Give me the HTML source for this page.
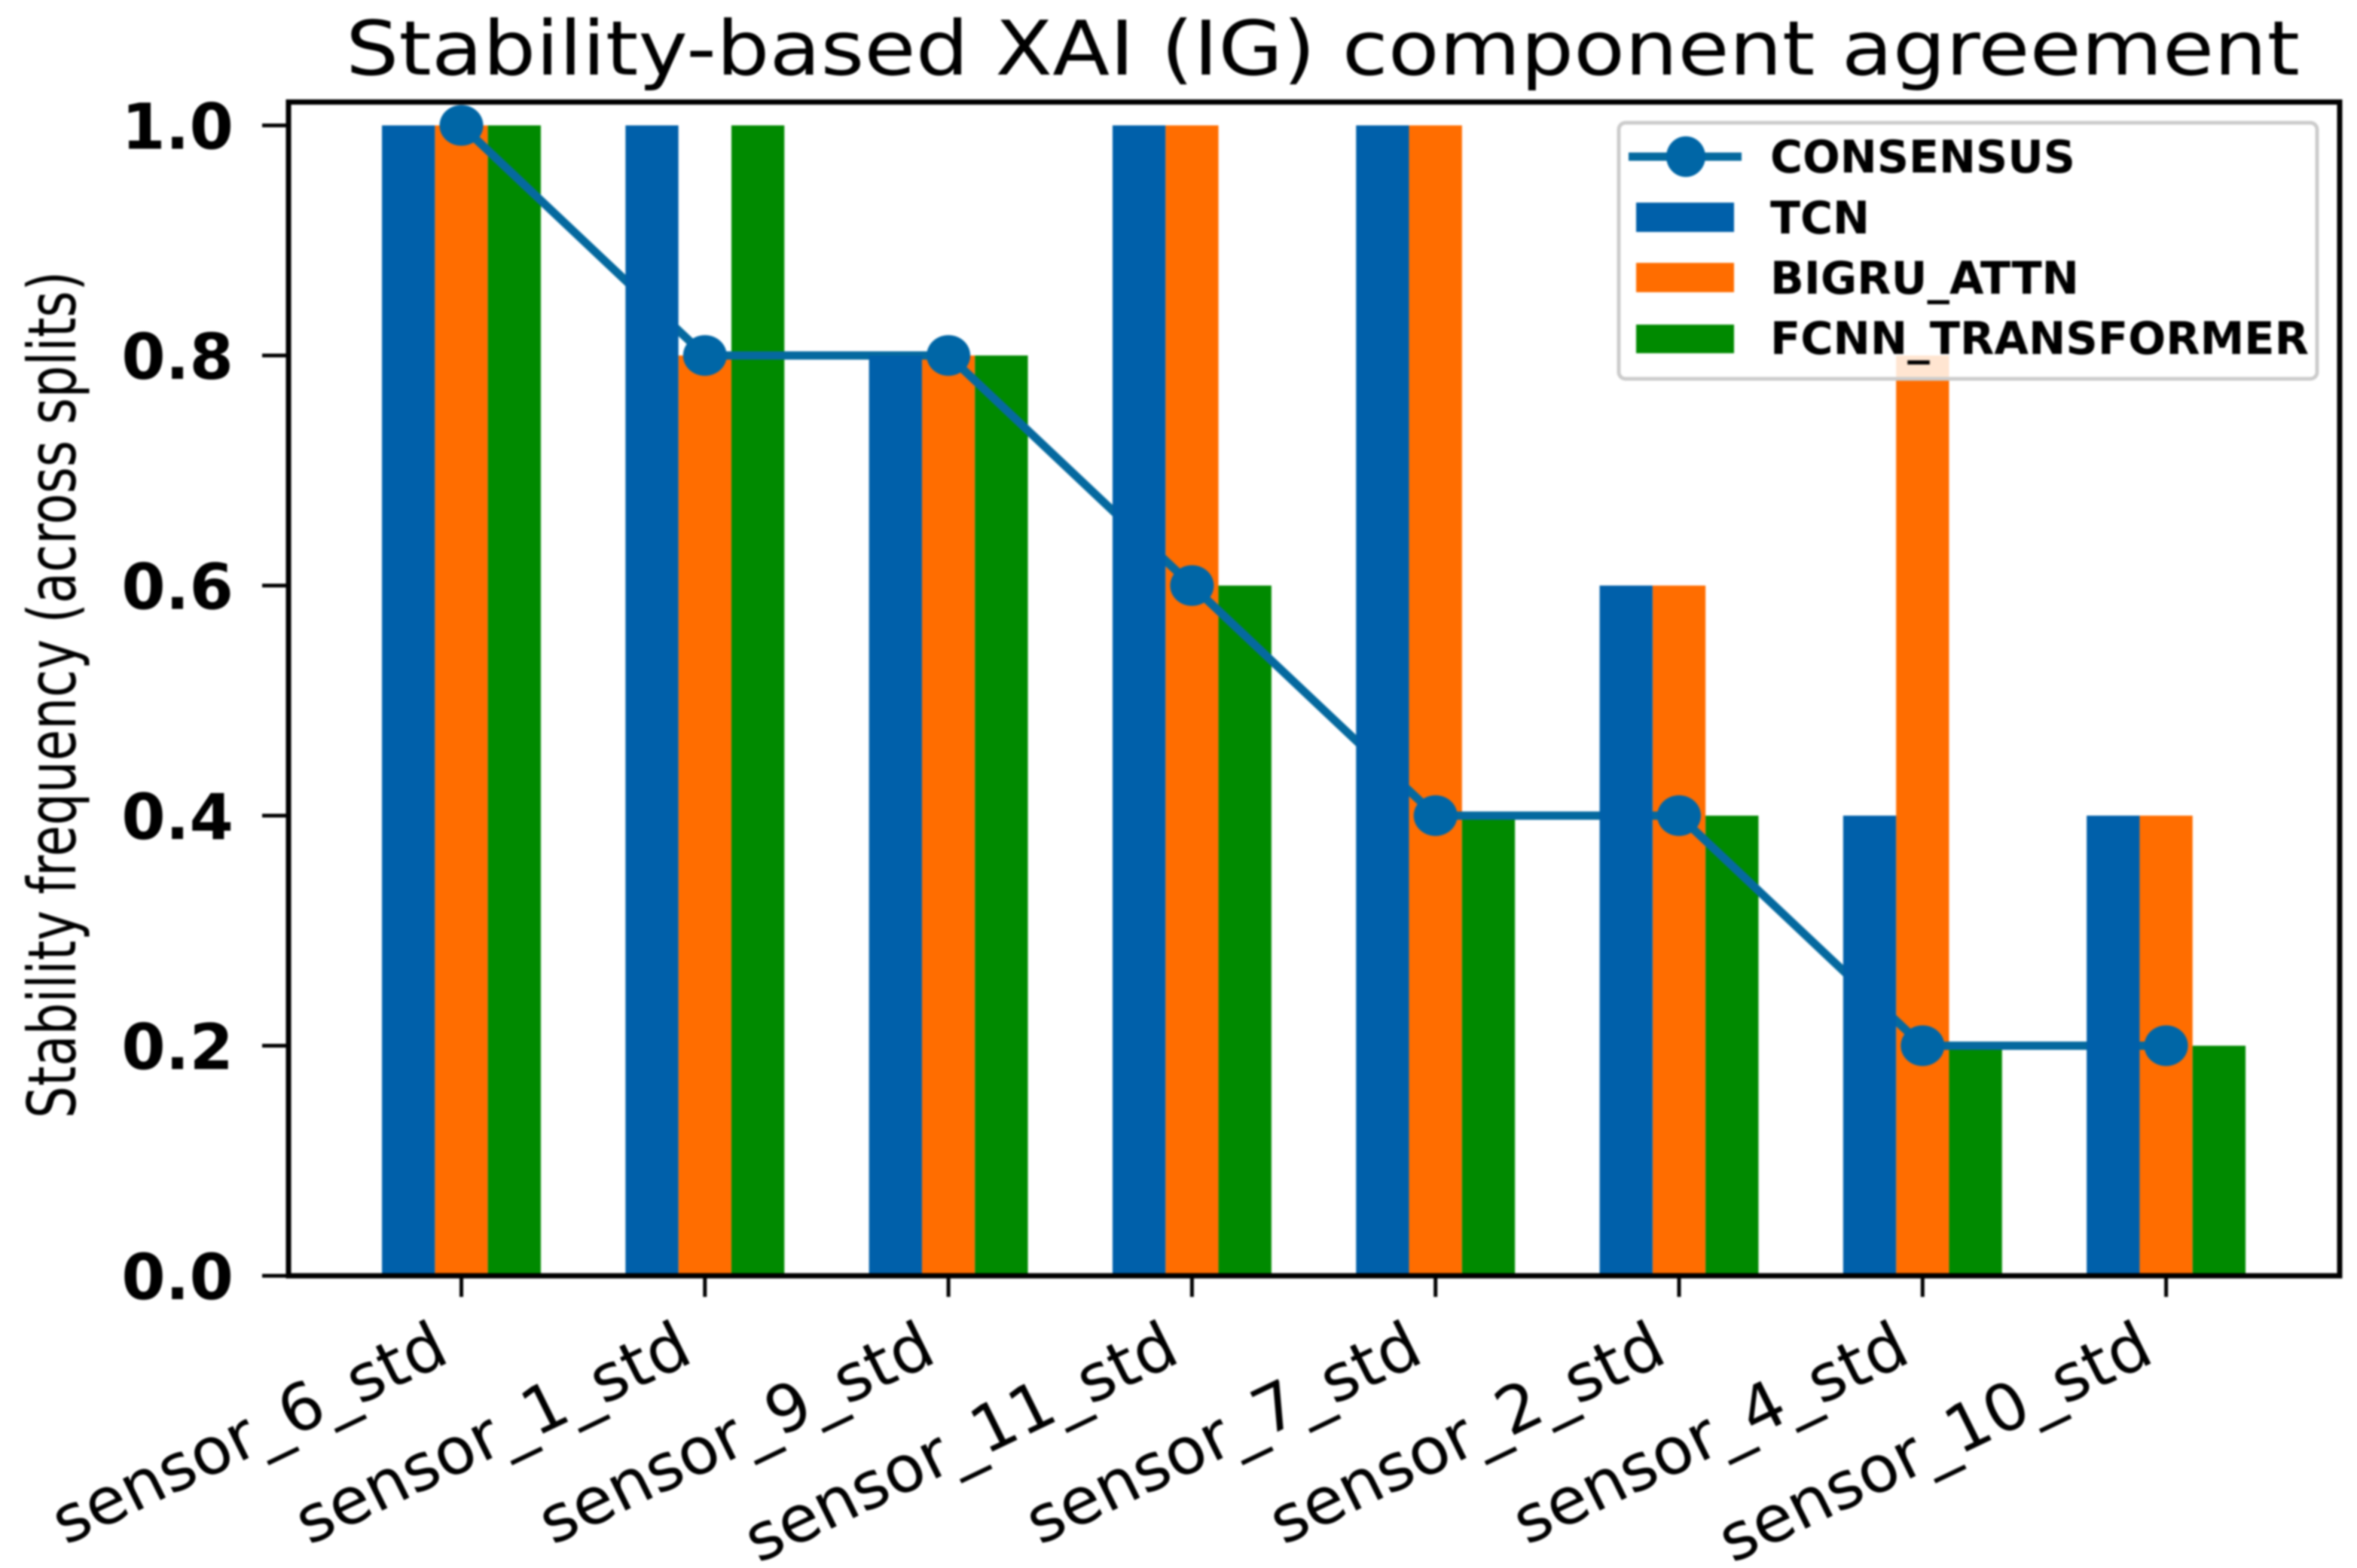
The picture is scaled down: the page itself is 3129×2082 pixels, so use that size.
<!DOCTYPE html>
<html lang="en">
<head>
<meta charset="utf-8">
<title>Stability-based XAI (IG) component agreement</title>
<style>
  html, body { margin: 0; padding: 0; background: #fff; }
  svg { display: block; filter: blur(1.2px); }
  text { font-family: "DejaVu Sans", "Liberation Sans", sans-serif; fill: #000; }
</style>
</head>
<body>
<svg id="chart" xmlns="http://www.w3.org/2000/svg" width="3129" height="2082" viewBox="0 0 3129 2082">
  <rect x="0" y="0" width="3129" height="2082" fill="#ffffff"/>
  <text x="459" y="99" font-size="100" textLength="2594" lengthAdjust="spacingAndGlyphs">Stability-based XAI (IG) component agreement</text>
  <text transform="translate(100,1485) rotate(-90)" font-size="88" textLength="1125" lengthAdjust="spacingAndGlyphs">Stability frequency (across splits)</text>
  <g id="plot-marks"></g>
  <g id="axes"></g>
  <g id="legend">
    <rect x="2149" y="163" width="927" height="340" rx="9" ry="9" fill="#ffffff" fill-opacity="0.82" stroke="#cccccc" stroke-width="5"/>
    <g>
      <line x1="2162" y1="208" x2="2312" y2="208" stroke="#05699f" stroke-width="11"/>
      <ellipse cx="2238" cy="208" rx="26" ry="27" fill="#0066a6"/>
      <text x="2350" y="229" font-size="60" font-weight="700" textLength="405" lengthAdjust="spacingAndGlyphs">CONSENSUS</text>
    </g>
    <g>
      <rect x="2172" y="269" width="130" height="39" fill="#0060aa"/>
      <text x="2350" y="310" font-size="60" font-weight="700" textLength="132" lengthAdjust="spacingAndGlyphs">TCN</text>
    </g>
    <g>
      <rect x="2172" y="349" width="130" height="39" fill="#ff6d00"/>
      <text x="2350" y="390" font-size="60" font-weight="700" textLength="410" lengthAdjust="spacingAndGlyphs">BIGRU_ATTN</text>
    </g>
    <g>
      <rect x="2172" y="431" width="130" height="38" fill="#008a00"/>
      <text x="2350" y="470" font-size="60" font-weight="700" textLength="715" lengthAdjust="spacingAndGlyphs">FCNN_TRANSFORMER</text>
    </g>
  </g>
</svg>
<script>
const categories = ['sensor_6_std', 'sensor_1_std', 'sensor_9_std', 'sensor_11_std', 'sensor_7_std', 'sensor_2_std', 'sensor_4_std', 'sensor_10_std'];
const tcnValues = [1.0, 1.0, 0.8, 1.0, 1.0, 0.6, 0.4, 0.4];
const bigruValues = [1.0, 0.8, 0.8, 1.0, 1.0, 0.6, 0.8, 0.4];
const fcnnValues = [1.0, 1.0, 0.8, 0.6, 0.4, 0.4, 0.2, 0.2];
const consensusValues = [1.0, 0.8, 0.8, 0.6, 0.4, 0.4, 0.2, 0.2];
const yTickValues = [0, 0.2, 0.4, 0.6, 0.8, 1.0];
const yTickLabels = ['0.0', '0.2', '0.4', '0.6', '0.8', '1.0'];

const NS = 'http://www.w3.org/2000/svg';
const plotLeft = 383, plotRight = 3106, plotTop = 135.5, plotBottom = 1694;
const yOne = 166.5;
const firstCenter = 612.5, groupStep = 323.3, barWidth = 70.3;

function xAxis(i) { return firstCenter + i * groupStep; }
function yAxis(v) { return plotBottom - (plotBottom - yOne) * v; }
function make(tag, attrs, parent) {
  const el = document.createElementNS(NS, tag);
  Object.keys(attrs).forEach(function (k) { el.setAttribute(k, attrs[k]); });
  parent.appendChild(el);
  return el;
}

const marks = document.getElementById('plot-marks');
const axes = document.getElementById('axes');

function drawBars(values, offset, color, seriesName) {
  values.forEach(function (v, i) {
    const top = yAxis(v);
    const el = make('rect', {
      x: xAxis(i) + offset * barWidth - barWidth / 2,
      y: top,
      width: barWidth,
      height: plotBottom - top,
      fill: color
    }, marks);
    
    
  });
}

/* Draw order follows the reference: the TCN bars hide the consensus line. */
drawBars(bigruValues, 0, '#ff6d00', 'bigru-attn');
drawBars(fcnnValues, 1, '#008a00', 'fcnn-transformer');

const consensusLine = make('polyline', {
  points: consensusValues.map(function (v, i) { return xAxis(i) + ',' + yAxis(v); }).join(' '),
  fill: 'none',
  stroke: '#05699f',
  'stroke-width': 11,
  'stroke-linejoin': 'round'
}, marks);



drawBars(tcnValues, -1, '#0060aa', 'tcn');

consensusValues.forEach(function (v, i) {
  const el = make('ellipse', { cx: xAxis(i), cy: yAxis(v), rx: 29, ry: 27, fill: '#0066a6' }, marks);
  
  
});

const frame = make('rect', {
  x: plotLeft, y: plotTop, width: plotRight - plotLeft, height: plotBottom - plotTop,
  fill: 'none', stroke: '#000000', 'stroke-width': 7
}, axes);



yTickValues.forEach(function (v, i) {
  const tick = make('line', { x1: 348, x2: plotLeft, y1: yAxis(v), y2: yAxis(v), stroke: '#000000', 'stroke-width': 5 }, axes);
  
  
  const label = make('text', { x: 310, y: yAxis(v) + 31, 'text-anchor': 'end', 'font-size': 84, 'font-weight': 700 }, axes);
  label.textContent = yTickLabels[i];
  
  
});

categories.forEach(function (name, i) {
  const cx = xAxis(i);
  const tick = make('line', { x1: cx, x2: cx, y1: plotBottom, y2: 1722, stroke: '#000000', 'stroke-width': 5 }, axes);
  
  
  const label = make('text', {
    'text-anchor': 'end',
    'font-size': 86,
    transform: 'translate(' + (cx - 13) + ',1807) scale(1.02,1) rotate(-26)'
  }, axes);
  label.textContent = name;
  
  
});
</script>
</body>
</html>
